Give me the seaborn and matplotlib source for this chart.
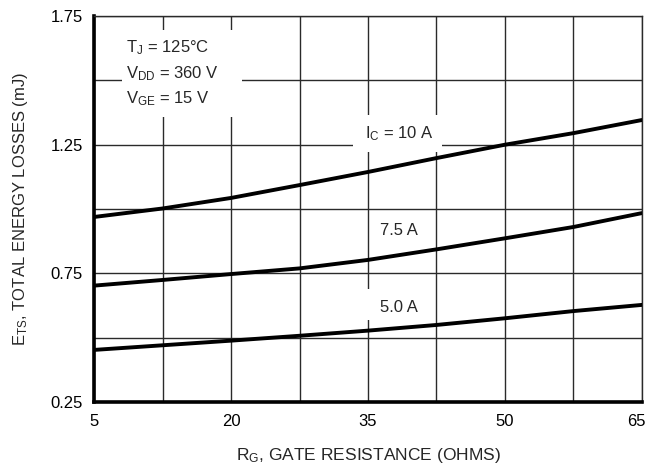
import numpy as np
import pandas as pd
import matplotlib
matplotlib.use("Agg")
import matplotlib.pyplot as plt
import matplotlib.transforms as mtransforms
from matplotlib.patches import Rectangle
import seaborn as sns

# Gate resistance (ohms)
rg = [5, 12.5, 20, 27.5, 35, 42.5, 50, 57.5, 65]

# Total switching energy losses (mJ)
ets_10a = [0.969, 1.002, 1.043, 1.093, 1.144, 1.198, 1.250, 1.295, 1.346]
ets_7_5a = [0.702, 0.724, 0.747, 0.769, 0.802, 0.843, 0.886, 0.930, 0.984]
ets_5a = [0.452, 0.470, 0.488, 0.507, 0.527, 0.549, 0.575, 0.603, 0.627]

currents = ["10 A", "7.5 A", "5.0 A"]
x_ticks = [5, 20, 35, 50, 65]
y_ticks = [0.25, 0.75, 1.25, 1.75]

df = pd.concat([
    pd.DataFrame({"rg": rg, "ets": ets_10a, "ic": currents[0]}),
    pd.DataFrame({"rg": rg, "ets": ets_7_5a, "ic": currents[1]}),
    pd.DataFrame({"rg": rg, "ets": ets_5a, "ic": currents[2]}),
])

sns.set_style("white")
plt.rcParams['font.family'] = ['Liberation Sans', 'DejaVu Sans']

fig = plt.figure(figsize=(6.49, 4.75), dpi=100, facecolor="white")
ax = fig.add_axes([0.145, 0.154, 0.844, 0.812])

sns.lineplot(data=df, x="rg", y="ets", hue="ic", palette=["black"] * 3,
             linewidth=2.8, legend=False, ax=ax, zorder=3)

ax.set_xlim(5, 65)
ax.set_ylim(0.25, 1.75)
ax.set_xticks(np.arange(5, 65.1, 7.5), minor=True)
ax.set_yticks(np.arange(0.25, 1.751, 0.25), minor=True)
ax.set_xticks(x_ticks)
ax.set_yticks(y_ticks)
ax.set_xticklabels([str(t) for t in x_ticks])
ax.set_yticklabels([f"{t:.2f}" for t in y_ticks])
ax.set_axisbelow(True)
ax.grid(True, which="both", color="#2a2a2a", linewidth=1.0)
ax.tick_params(which="both", length=0, labelsize=12, colors="black")
ax.tick_params(axis="x", pad=9)
ax.tick_params(axis="y", pad=8)

# nudge the last x label so it stays inside the figure
last = ax.get_xticklabels()[-1]
last.set_transform(last.get_transform() + mtransforms.ScaledTranslation(-5 / 100, 0, fig.dpi_scale_trans))

for side in ["top", "right"]:
    ax.spines[side].set_linewidth(1.0)
    ax.spines[side].set_color("#2a2a2a")
for side in ["left", "bottom"]:
    ax.spines[side].set_linewidth(2.6)
    ax.spines[side].set_color("black")

ax.set_xlabel(r"$\mathregular{R_G}$, GATE RESISTANCE (OHMS)", fontsize=12.5, labelpad=12)
ax.set_ylabel(r"$\mathregular{E_{TS}}$, TOTAL ENERGY LOSSES (mJ)", fontsize=12, labelpad=15)

# white boxes behind the labels (they break the grid lines)
ax.add_patch(Rectangle((8.07, 1.357), 13.1, 0.339, facecolor="white", edgecolor="none", zorder=2))
ax.add_patch(Rectangle((33.4, 1.221), 9.7, 0.144, facecolor="white", edgecolor="none", zorder=2))
ax.add_patch(Rectangle((34.3, 0.568), 7.7, 0.121, facecolor="white", edgecolor="none", zorder=2))

fs = 12
ax.text(8.5, 1.610, r"$\mathregular{T_J}$ = 125°C", fontsize=fs, va="baseline", ha="left", zorder=4)
ax.text(8.5, 1.509, r"$\mathregular{V_{DD}}$ = 360 V", fontsize=fs, va="baseline", ha="left", zorder=4)
ax.text(8.5, 1.412, r"$\mathregular{V_{GE}}$ = 15 V", fontsize=fs, va="baseline", ha="left", zorder=4)
ax.text(34.7, 1.276, r"$\mathregular{I_C}$ = 10 A", fontsize=fs, va="baseline", ha="left", zorder=4)
ax.text(36.3, 0.899, "7.5 A", fontsize=fs, va="baseline", ha="left", zorder=4)
ax.text(36.3, 0.600, "5.0 A", fontsize=fs, va="baseline", ha="left", zorder=4)

fig.savefig("out.png", dpi=100, facecolor="white")
